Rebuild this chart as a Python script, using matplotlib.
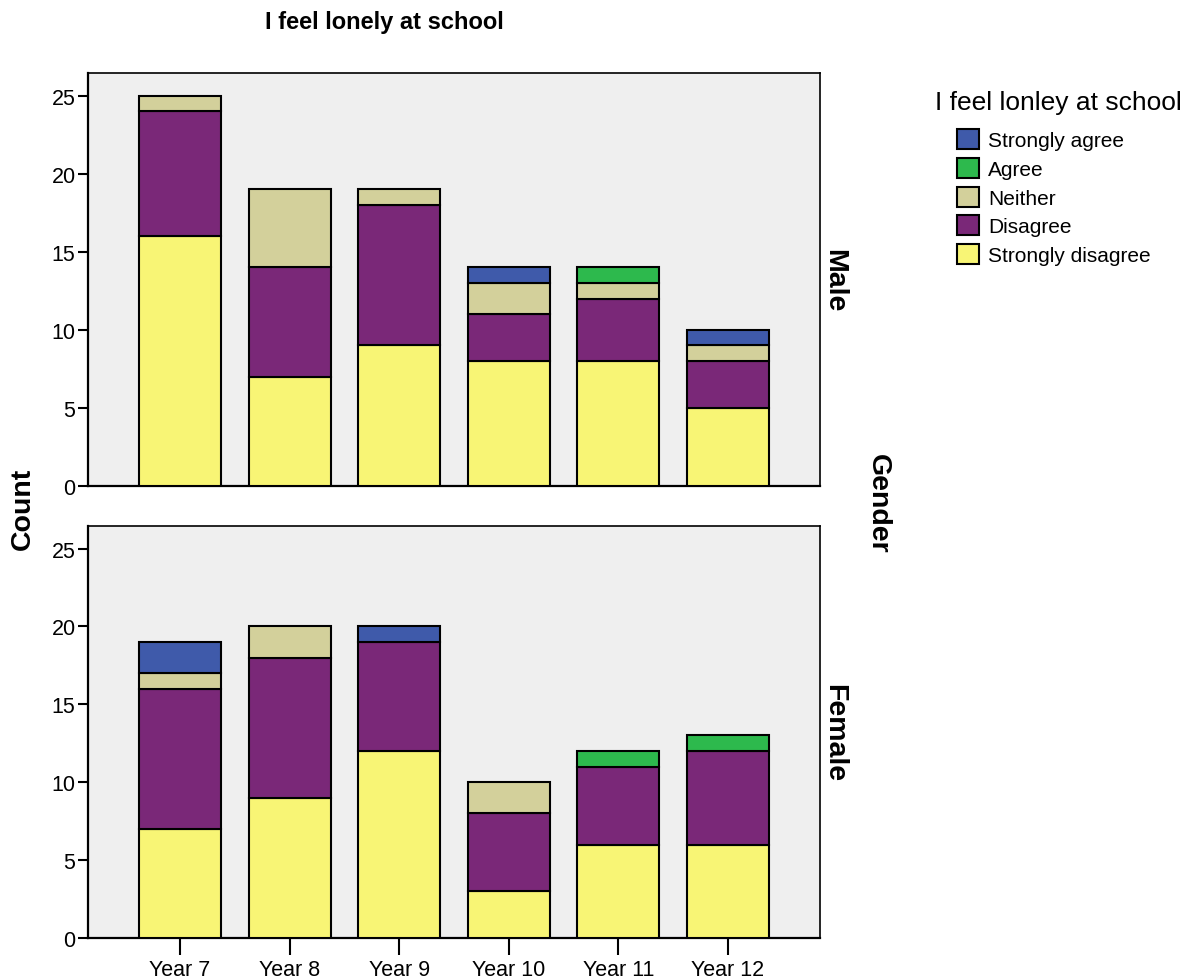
import numpy as np
import matplotlib
matplotlib.use("Agg")
import matplotlib.pyplot as plt
from matplotlib.patches import Patch

plt.rcParams["font.family"] = ["Liberation Sans", "DejaVu Sans"]

years = ["Year 7", "Year 8", "Year 9", "Year 10", "Year 11", "Year 12"]
responses = ["Strongly disagree", "Disagree", "Neither", "Agree", "Strongly agree"]
colors = ["#f8f575", "#7a2878", "#d3d09b", "#2db94d", "#3f5aaa"]

# counts per response (order of `responses`), per year
male_sd = [16, 7, 9, 8, 8, 5]
male_d = [8, 7, 9, 3, 4, 3]
male_n = [1, 5, 1, 2, 1, 1]
male_a = [0, 0, 0, 0, 1, 0]
male_sa = [0, 0, 0, 1, 0, 1]

female_sd = [7, 9, 12, 3, 6, 6]
female_d = [9, 9, 7, 5, 5, 6]
female_n = [1, 2, 0, 2, 0, 0]
female_a = [0, 0, 0, 0, 1, 1]
female_sa = [2, 0, 1, 0, 0, 0]

panels = [
    ("Male", [male_sd, male_d, male_n, male_a, male_sa]),
    ("Female", [female_sd, female_d, female_n, female_a, female_sa]),
]

fig = plt.figure(figsize=(11.96, 9.79), dpi=100)
ax_top = fig.add_axes([0.0736, 0.5026, 0.612, 0.4219])
ax_bot = fig.add_axes([0.0736, 0.0409, 0.612, 0.4208])

x = np.arange(len(years))
for ax, (label, series) in zip([ax_top, ax_bot], panels):
    ax.set_facecolor("#efefef")
    bottom = np.zeros(len(years))
    for vals, col in zip(series, colors):
        vals = np.array(vals, dtype=float)
        mask = vals > 0
        ax.bar(x[mask], vals[mask], width=0.75, bottom=bottom[mask],
               color=col, edgecolor="black", linewidth=1.5, zorder=3)
        bottom += vals
    ax.set_xlim(-0.84, 5.84)
    ax.set_ylim(0, 26.45)
    ax.set_yticks([0, 5, 10, 15, 20, 25])
    ax.tick_params(axis="y", direction="out", length=7, width=1.5,
                   labelsize=15.5, pad=2)
    for s in ax.spines.values():
        s.set_color("black")
        s.set_linewidth(1.2)
    ax.spines["left"].set_linewidth(1.6)
    ax.spines["bottom"].set_linewidth(1.6)
    ax.text(1.02, 0.5, label, transform=ax.transAxes, rotation=-90,
            ha="center", va="center", fontsize=20.5, fontweight="bold")

ax_top.set_xticks([])
ax_bot.set_xticks(x)
ax_bot.set_xticklabels(years)
ax_bot.tick_params(axis="x", direction="out", length=12, width=1.5,
                   labelsize=15.5, pad=3)

fig.text(0.3215, 0.977, "I feel lonely at school", ha="center", va="center",
         fontsize=17, fontweight="bold")
fig.text(0.019, 0.48, "Count", rotation=90, ha="center", va="center",
         fontsize=20.5, fontweight="bold")
fig.text(0.734, 0.485, "Gender", rotation=-90, ha="center", va="center",
         fontsize=20.5, fontweight="bold")

# legend title drawn separately so the gap under it matches
fig.text(935 / 1196, 1 - 103 / 979, "I feel lonley at school",
         ha="left", va="center", fontsize=19)
handles = [Patch(facecolor=c, edgecolor="black", linewidth=1.5, label=r)
           for r, c in zip(responses, colors)][::-1]
leg = fig.legend(handles=handles, loc="upper left",
                 bbox_to_anchor=(957 / 1196, 1 - 130 / 979), frameon=False,
                 fontsize=15, borderpad=0, borderaxespad=0,
                 handlelength=1.05, handleheight=1.1,
                 handletextpad=0.45, labelspacing=0.37)

fig.savefig("out.png", dpi=100)
